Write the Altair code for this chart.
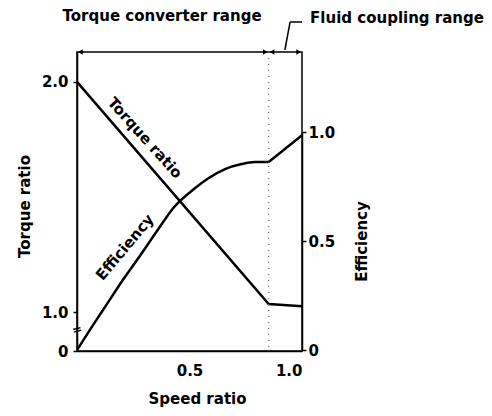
import altair as alt
import pandas as pd

# ---- data ----
torque_speed = [0.0, 0.852, 1.0]
torque_vals = [2.0, 1.035, 1.025]

eff_curve_speed = [0.0, 0.061, 0.135, 0.209, 0.283, 0.357, 0.431, 0.524, 0.584, 0.658, 0.732, 0.791, 0.852]
eff_curve_vals = [0.0, 0.098, 0.214, 0.329, 0.437, 0.548, 0.655, 0.742, 0.788, 0.830, 0.853, 0.862, 0.862]

coupling_speed = [0.852, 1.0]
coupling_eff = [0.862, 0.985]

boundary = [0.852]

FONT = "DejaVu Sans"

torque_df = pd.DataFrame({"speed": torque_speed, "torque": torque_vals})
eff_df = pd.DataFrame({"speed": eff_curve_speed, "eff": eff_curve_vals})
coup_df = pd.DataFrame({"speed": coupling_speed, "eff": coupling_eff})
bound_df = pd.DataFrame({"speed": boundary})

X = alt.X("speed:Q",
          scale=alt.Scale(domain=[0, 1], nice=False, zero=False),
          axis=alt.Axis(values=[0.5, 1.0], format=".1f", title="Speed ratio",
                        ticks=False, labelPadding=12, titlePadding=13,
                        titleX=120, grid=False))

Y_T = alt.Y("torque:Q",
            scale=alt.Scale(domain=[0, 1, 2.13], range=[299, 260, 0], nice=False, zero=False),
            axis=alt.Axis(values=[0, 1, 2], title="Torque ratio",
                          labelExpr="datum.value == 0 ? '0' : format(datum.value, '.1f')",
                          tickSize=4, labelPadding=5, titlePadding=9, titleY=154, grid=False))

Y_E = alt.Y("eff:Q",
            scale=alt.Scale(domain=[0, 1], range=[298, 80], nice=False, zero=False),
            axis=alt.Axis(orient="right", values=[0, 0.5, 1], title="Efficiency",
                          labelExpr="datum.value == 0 ? '0' : format(datum.value, '.1f')",
                          tickSize=4, labelPadding=2, titlePadding=35, titleAngle=270,
                          grid=False))

torque_line = alt.Chart(torque_df).mark_line(color="black", strokeWidth=2.5).encode(x=X, y=Y_T)

torque_lbl = alt.Chart(pd.DataFrame({"speed": [0.302], "torque": [1.757], "t": ["Torque ratio"]})).mark_text(
    font=FONT, fontWeight="bold", fontSize=15, angle=48, color="black"
).encode(x=X, y=Y_T, text="t:N")

break_lbl = alt.Chart(pd.DataFrame({"speed": [0.0], "torque": [0.55], "t": ["="]})).mark_text(
    font=FONT, fontWeight="bold", fontSize=12, angle=345, color="black"
).encode(x=X, y=Y_T, text="t:N")

left = alt.layer(torque_line, torque_lbl, break_lbl)

eff_line = alt.Chart(eff_df).mark_line(color="black", strokeWidth=2.5, interpolate="monotone").encode(x=X, y=Y_E)
coup_line = alt.Chart(coup_df).mark_line(color="black", strokeWidth=2.5).encode(x=X, y=Y_E)
eff_lbl = alt.Chart(pd.DataFrame({"speed": [0.213], "eff": [0.472], "t": ["Efficiency"]})).mark_text(
    font=FONT, fontWeight="bold", fontSize=15, angle=310, color="black"
).encode(x=X, y=Y_E, text="t:N")

right = alt.layer(eff_line, coup_line, eff_lbl)

dotted = alt.Chart(bound_df).mark_rule(color="#666", strokeDash=[1, 5], strokeWidth=1.2).encode(x=X)

# top range annotation
arrows_df = pd.DataFrame({"speed": [0.015, 0.837, 0.867, 0.985],
                          "shape": ["triangle-left", "triangle-right", "triangle-left", "triangle-right"]})
arrows = alt.Chart(arrows_df).mark_point(filled=True, color="black", size=28, opacity=1).encode(
    x=X, y=alt.value(0), shape=alt.Shape("shape:N", scale=None, legend=None))

leader1 = alt.Chart(pd.DataFrame({"speed": [0.924], "s2": [0.947]})).mark_rule(color="black", strokeWidth=1.5).encode(
    x=X, x2="s2:Q", y=alt.value(-2), y2=alt.value(-30))
leader2 = alt.Chart(pd.DataFrame({"speed": [0.947], "s2": [1.0]})).mark_rule(color="black", strokeWidth=1.5).encode(
    x=X, x2="s2:Q", y=alt.value(-30))

ann_df = pd.DataFrame({"speed": [0.378], "t": ["Torque converter range"]})
ann1 = alt.Chart(ann_df).mark_text(font=FONT, fontWeight="bold", fontSize=15, align="center",
                                   baseline="middle", color="black").encode(x=X, y=alt.value(-36), text="t:N")
ann2_df = pd.DataFrame({"speed": [1.036], "t": ["Fluid coupling range"]})
ann2 = alt.Chart(ann2_df).mark_text(font=FONT, fontWeight="bold", fontSize=15, align="left",
                                    baseline="middle", color="black").encode(x=X, y=alt.value(-34), text="t:N")

chart = alt.layer(left, right, dotted, arrows, leader1, leader2, ann1, ann2).resolve_scale(
    y="independent"
).properties(
    width=225, height=299,
    autosize=alt.AutoSizeParams(type="none"),
    padding={"left": 69, "top": 44, "right": 182, "bottom": 57},
    background="white",
).configure_view(
    stroke="black", strokeWidth=1.5
).configure_axis(
    labelFont=FONT, labelFontWeight="bold", labelFontSize=15, labelColor="black",
    titleFont=FONT, titleFontWeight="bold", titleFontSize=15, titleColor="black",
    domainColor="black", domainWidth=1.5, tickColor="black", tickWidth=1.5,
)

chart.save("out.html", embed_options={"renderer": "svg", "actions": False})
